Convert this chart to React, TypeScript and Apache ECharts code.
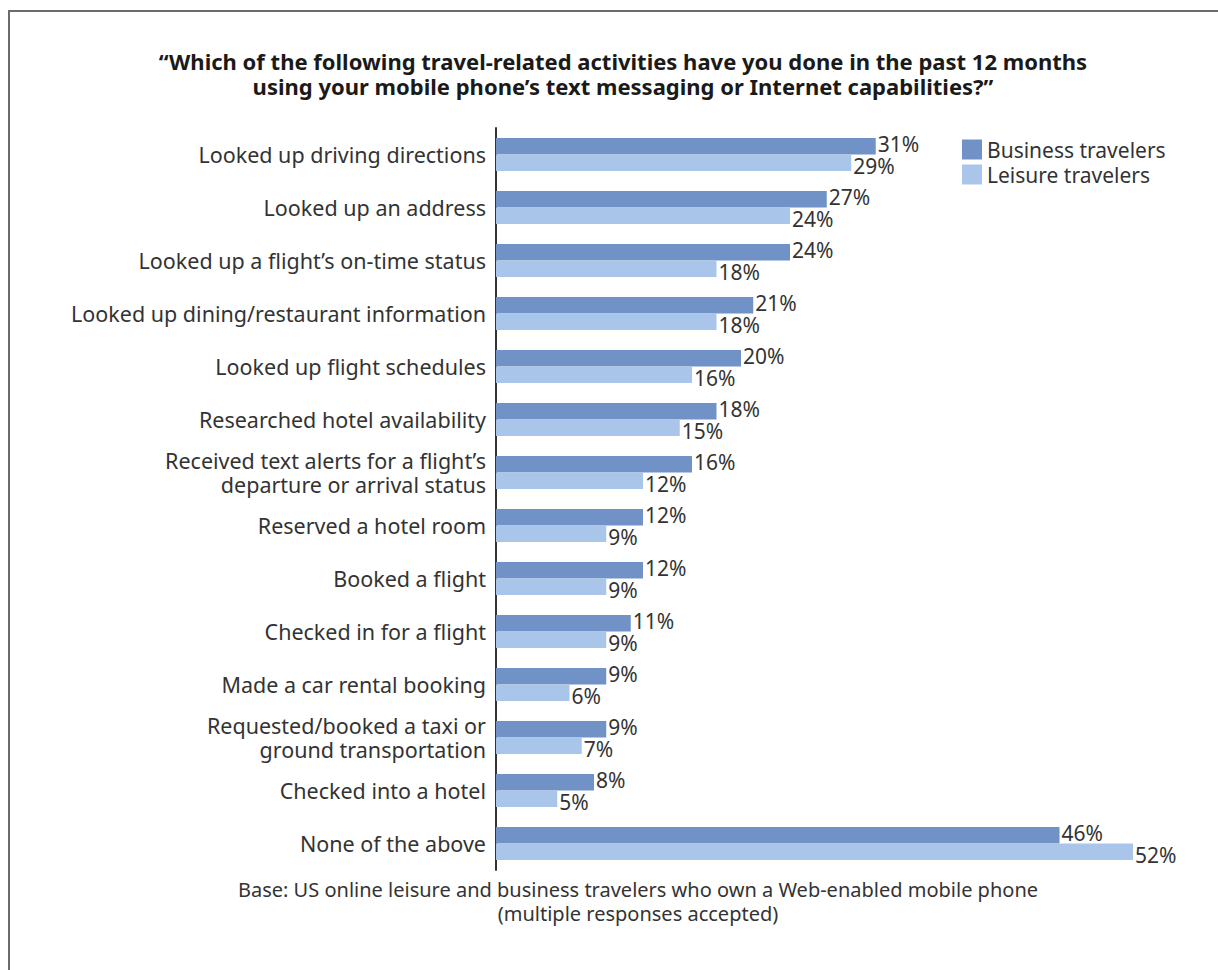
import React, { useEffect, useRef } from "react";
import * as echarts from "echarts";

const categories = [
  "Looked up driving directions",
  "Looked up an address",
  "Looked up a flight’s on-time status",
  "Looked up dining/restaurant information",
  "Looked up flight schedules",
  "Researched hotel availability",
  "Received text alerts for a flight’s\ndeparture or arrival status",
  "Reserved a hotel room",
  "Booked a flight",
  "Checked in for a flight",
  "Made a car rental booking",
  "Requested/booked a taxi or\nground transportation",
  "Checked into a hotel",
  "None of the above",
];
const business = [31, 27, 24, 21, 20, 18, 16, 12, 12, 11, 9, 9, 8, 46];
const leisure = [29, 24, 18, 18, 16, 15, 12, 9, 9, 9, 6, 7, 5, 52];
const seriesNames = ["Business travelers", "Leisure travelers"];
const titleLines = [
  "“Which of the following travel-related activities have you done in the past 12 months",
  "using your mobile phone’s text messaging or Internet capabilities?”",
];
const footLines = [
  "Base: US online leisure and business travelers who own a Web-enabled mobile phone",
  "(multiple responses accepted)",
];

const FONT = "'Noto Sans', sans-serif";
const DARK = "#7092c6";
const LIGHT = "#a9c6ea";

export default function App() {
  const ref = useRef<HTMLDivElement>(null);
  useEffect(() => {
    const chart = echarts.init(ref.current!, null, { renderer: "svg" });
    chart.setOption({
      animation: false,
      backgroundColor: "#ffffff",
      textStyle: { fontFamily: FONT },
      title: {
        text: titleLines.join("\n"),
        left: 618,
        textAlign: "center",
        top: 43,
        textStyle: {
          fontFamily: FONT,
          fontSize: 22,
          fontWeight: "bold",
          color: "#1a1a1a",
          lineHeight: 25,
        },
      },
      legend: {
        orient: "vertical",
        left: 957,
        top: 134,
        itemWidth: 20,
        itemHeight: 20,
        itemGap: 4,
        icon: "rect",
        textStyle: { fontFamily: FONT, fontSize: 21, color: "#333" },
        data: seriesNames,
      },
      grid: { left: 496, top: 128, width: 637, height: 742, containLabel: false },
      xAxis: {
        type: "value",
        min: 0,
        max: 52,
        show: false,
      },
      yAxis: {
        type: "category",
        inverse: true,
        data: categories,
        axisLine: { lineStyle: { color: "#333", width: 2 } },
        axisTick: { show: false },
        axisLabel: {
          fontFamily: FONT,
          fontSize: 21.5,
          color: "#333",
          margin: 10,
          lineHeight: 24,
        },
      },
      series: [
        {
          name: seriesNames[0],
          type: "bar",
          data: business,
          barWidth: 16.5,
          barGap: "0%",
          itemStyle: { color: DARK },
          label: {
            show: true,
            position: "right",
            distance: 2,
            offset: [0, -2],
            formatter: "{c}%",
            fontFamily: FONT,
            fontSize: 21,
            color: "#333",
          },
        },
        {
          name: seriesNames[1],
          type: "bar",
          data: leisure,
          barWidth: 16.5,
          barGap: "0%",
          itemStyle: { color: LIGHT },
          label: {
            show: true,
            position: "right",
            distance: 2,
            offset: [0, 3],
            formatter: "{c}%",
            fontFamily: FONT,
            fontSize: 21,
            color: "#333",
          },
        },
      ],
      graphic: [
        {
          type: "rect",
          shape: { x: 9, y: 11, width: 1300, height: 1100 },
          style: { fill: "none", stroke: "#6b6b6b", lineWidth: 2 },
          silent: true,
        },
        {
          type: "text",
          x: 638,
          y: 877,
          style: {
            text: footLines.join("\n"),
            fontFamily: FONT,
            fontSize: 20,
            fill: "#333",
            align: "center",
            lineHeight: 24,
          },
        },
      ],
    });
    return () => chart.dispose();
  }, []);
  return (
    <div
      ref={ref}
      style={{ position: "fixed", left: 0, top: 0, width: 1218, height: 970 }}
    />
  );
}
